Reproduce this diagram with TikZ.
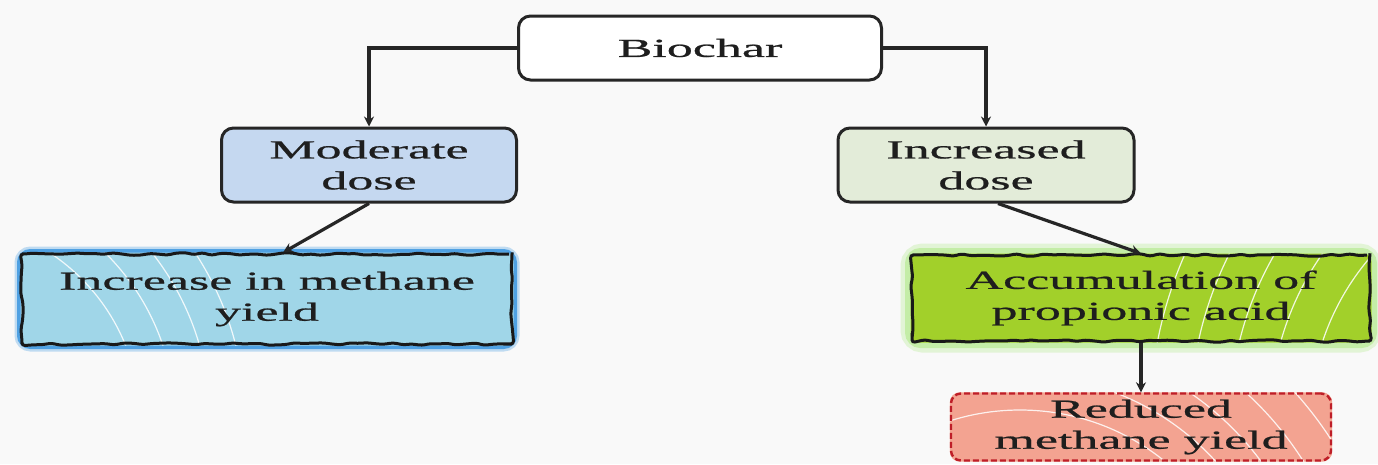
\documentclass[tikz,border=0pt]{standalone}
\usepackage{fontspec}
\setmainfont{Liberation Serif}[FakeStretch=2.0,FakeBold=0.8]
\usetikzlibrary{arrows.meta,decorations.pathmorphing,backgrounds}
\pgfdeclarelayer{glowlayer}
\pgfdeclarelayer{filllayer}
\pgfsetlayers{background,glowlayer,filllayer,main}
\definecolor{bgc}{RGB}{249,249,249}
\definecolor{txt}{RGB}{30,30,30}
\definecolor{modfill}{RGB}{197,216,240}
\definecolor{incfill}{RGB}{227,236,217}
\definecolor{yldfill}{RGB}{160,214,232}
\definecolor{yldglow}{RGB}{20,130,220}
\definecolor{accfill}{RGB}{162,208,42}
\definecolor{accglow}{RGB}{160,230,110}
\definecolor{redfill}{RGB}{243,163,145}
\definecolor{redline}{RGB}{190,30,40}
\tikzset{
  lbl/.style={align=center, inner sep=0pt, text=txt, font=\fontsize{26}{31}\selectfont},
  plainbox/.style={lbl, draw=black!85, line width=3pt, rounded corners=12pt},
  wavybox/.style={lbl, draw=black!90, line width=3pt, decorate,
    decoration={random steps, segment length=9pt, amplitude=1.3pt}, rounded corners=3pt},
  dashbox/.style={lbl, draw=redline, line width=2.4pt, dash pattern=on 6pt off 3pt, rounded corners=10pt},
  arr/.style={draw=black!85, line width=3.2pt, -{Stealth[length=10pt,width=10pt]}},
  hatch/.style={white, line width=1.2pt, opacity=.85}
}
\begin{document}
\begin{tikzpicture}[x=1pt,y=-1pt]
\pgfmathsetseed{7}
\useasboundingbox (0,0) rectangle (1378,464);
\begin{pgfonlayer}{background}
  \fill[bgc] (0,0) rectangle (1378,464);
\end{pgfonlayer}

% top and middle boxes
\node[plainbox, fill=white, minimum width=363pt, minimum height=64pt] (bio) at (700,48) {Biochar};
\node[plainbox, fill=modfill, minimum width=295pt, minimum height=74pt] (mod) at (369,165) {Moderate\\dose};
\node[plainbox, fill=incfill, minimum width=296pt, minimum height=74pt] (inc) at (986,165) {Increased\\dose};

% lower boxes
\node[wavybox, minimum width=490pt, minimum height=90pt] (yld) at (267,299) {Increase in methane\\yield};
\node[wavybox, minimum width=458pt, minimum height=86pt] (acc) at (1141,298) {Accumulation of\\propionic acid};
\node[dashbox, minimum width=380pt, minimum height=67pt] (red) at (1141,427) {Reduced\\methane yield};

\begin{pgfonlayer}{glowlayer}
  \draw[yldglow, line width=12pt, opacity=.25, rounded corners=10pt] (yld.south west) rectangle (yld.north east);
  \draw[yldglow, line width=7pt, opacity=.65, rounded corners=10pt] (yld.south west) rectangle (yld.north east);
  \draw[accglow, line width=20pt, opacity=.25, rounded corners=12pt] (acc.south west) rectangle (acc.north east);
  \draw[accglow, line width=11pt, opacity=.45, rounded corners=10pt] (acc.south west) rectangle (acc.north east);
\end{pgfonlayer}

\begin{pgfonlayer}{filllayer}
  \fill[yldfill, rounded corners=8pt] (yld.south west) rectangle (yld.north east);
  \begin{scope}
    \clip[rounded corners=8pt] (yld.south west) rectangle (yld.north east);
    \foreach \r in {200,235,270,305} \draw[hatch] (-60,420) circle[radius=\r];
  \end{scope}
  \fill[accfill, rounded corners=8pt] (acc.south west) rectangle (acc.north east);
  \begin{scope}
    \clip[rounded corners=8pt] (acc.south west) rectangle (acc.north east);
    \foreach \r in {250,290,330,370,410} \draw[hatch] (1560,420) circle[radius=\r];
  \end{scope}
  \fill[redfill, rounded corners=10pt] (red.south west) rectangle (red.north east);
  \begin{scope}
    \clip[rounded corners=10pt] (red.south west) rectangle (red.north east);
    \foreach \r in {230,265,300,335,370} \draw[hatch] (1020,640) circle[radius=\r];
  \end{scope}
\end{pgfonlayer}

% connectors
\draw[arr] (bio.west) -| (mod.north);
\draw[arr] (bio.east) -| (inc.north);
\draw[arr] (mod.south) -- ([xshift=16pt]yld.north);
\draw[arr] ([xshift=12pt]inc.south) -- (acc.north);
\draw[arr] (acc.south) -- (red.north);
\end{tikzpicture}
\end{document}
